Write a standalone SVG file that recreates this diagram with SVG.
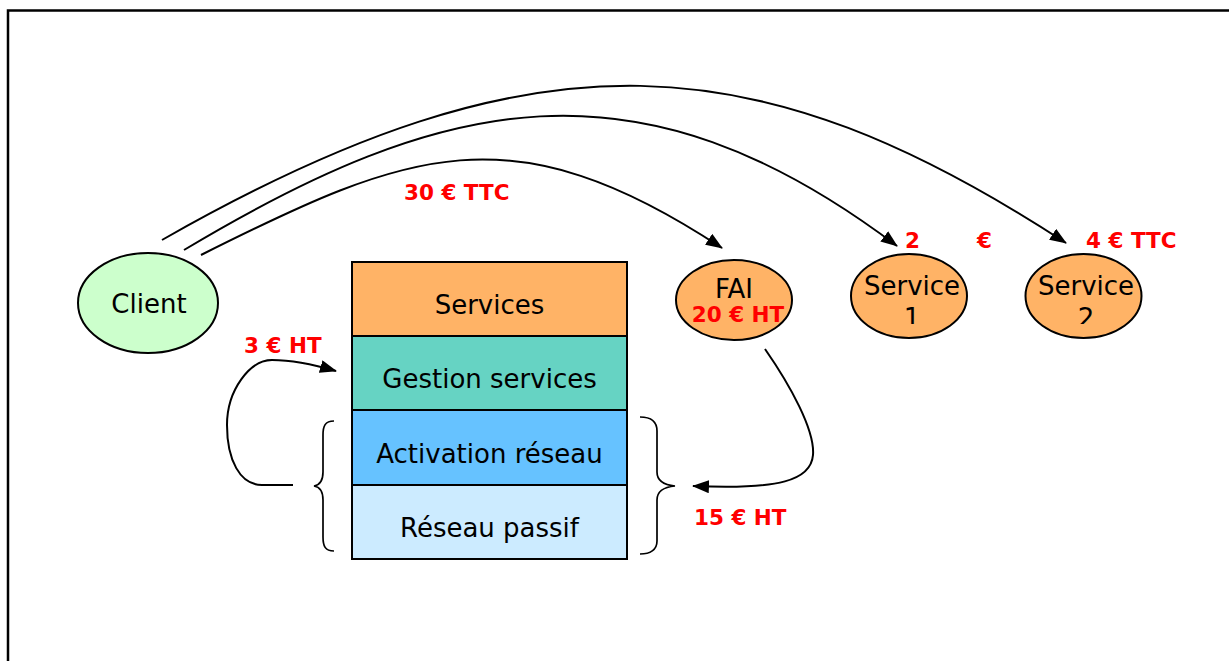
<svg xmlns="http://www.w3.org/2000/svg" width="1229" height="661" viewBox="0 0 1229 661">
<style>
.t{font-family:"DejaVu Sans","Verdana",sans-serif;font-size:26px;fill:#000;text-anchor:middle}
.r{font-family:"DejaVu Sans","Verdana",sans-serif;font-size:21.5px;font-weight:bold;fill:#FF0000}
.n{stroke:#000;stroke-width:2}
.c{fill:none;stroke:#000;stroke-width:2}
.b{fill:none;stroke:#000;stroke-width:1.7}
</style>
<defs>
<marker id="ah" markerUnits="userSpaceOnUse" markerWidth="17" markerHeight="13" refX="16" refY="6.5" orient="auto">
<path d="M0,0 L17,6.5 L0,13 z" fill="#000"/>
</marker>
<clipPath id="cl"><rect x="840" y="240" width="320" height="84"/></clipPath>
</defs>
<rect width="1229" height="661" fill="#fff"/>
<path d="M8,661 V10.5 H1229" fill="none" stroke="#000" stroke-width="2.5"/>

<g id="client">
<ellipse class="n" cx="148" cy="303" rx="70" ry="50" fill="#CCFFCC"/>
<text class="t" x="149" y="313">Client</text>
</g>

<g id="stack">
<g id="services">
<rect class="n" x="352" y="262" width="275" height="74" fill="#FFB366"/>
<text class="t" x="489.5" y="314">Services</text>
</g>
<g id="gestion">
<rect class="n" x="352" y="336" width="275" height="74" fill="#66D3C3"/>
<text class="t" x="489.5" y="388">Gestion services</text>
</g>
<g id="activation">
<rect class="n" x="352" y="410" width="275" height="75" fill="#66C2FF"/>
<text class="t" x="489.5" y="463">Activation réseau</text>
</g>
<g id="passif">
<rect class="n" x="352" y="485" width="275" height="74" fill="#CCEBFF"/>
<text class="t" x="489.5" y="537">Réseau passif</text>
</g>
</g>

<g id="braces">
<path class="b" d="M334,421 C325,421 323,426 323,435 V472 C323,481 320,485 314,486 C320,487 323,491 323,500 V537 C323,546 325,551 334,551"/>
<path class="b" d="M640,417 C650,417 657,421 657,431 V472 C657,481 664,485 675,486 C664,487 657,491 657,500 V541 C657,550 650,554 640,554"/>
</g>

<g id="fai">
<ellipse class="n" cx="734" cy="300" rx="58" ry="40" fill="#FFB366"/>
<text class="t" x="734" y="298">FAI</text>
<text class="r" x="738" y="322" text-anchor="middle">20 € HT</text>
</g>

<g id="service1">
<ellipse class="n" cx="909" cy="296" rx="58" ry="42" fill="#FFB366"/>
<g clip-path="url(#cl)">
<text class="t" x="912" y="295">Service</text>
<text class="t" x="912" y="327">1</text>
</g>
</g>

<g id="service2">
<ellipse class="n" cx="1083.5" cy="296" rx="58" ry="42" fill="#FFB366"/>
<g clip-path="url(#cl)">
<text class="t" x="1086" y="295">Service</text>
<text class="t" x="1086" y="327">2</text>
</g>
</g>

<g id="connectors">
<path class="c" marker-end="url(#ah)" d="M201,255 C408,151 511,109 722,248"/>
<path class="c" marker-end="url(#ah)" d="M184,250 C443,95 637,50 897,246"/>
<path class="c" marker-end="url(#ah)" d="M162,240 C539,25 759,43 1066,243"/>
<path class="c" marker-end="url(#ah)" d="M293,485 L262,485 C240,485 227,460 227,425 C227,390 250,360 272,360 C292,360 312,364 336,371"/>
<path class="c" marker-end="url(#ah)" d="M765,349 C790,385 815,430 813,455 C811,480 780,490 693,486"/>
</g>

<g id="labels">
<text class="r" x="404" y="200">30 € TTC</text>
<text class="r" y="248"><tspan x="905">2</tspan><tspan x="977">€</tspan></text>
<text class="r" x="1086" y="248">4 € TTC</text>
<text class="r" x="244" y="353">3 € HT</text>
<text class="r" x="694" y="525">15 € HT</text>
</g>
</svg>
